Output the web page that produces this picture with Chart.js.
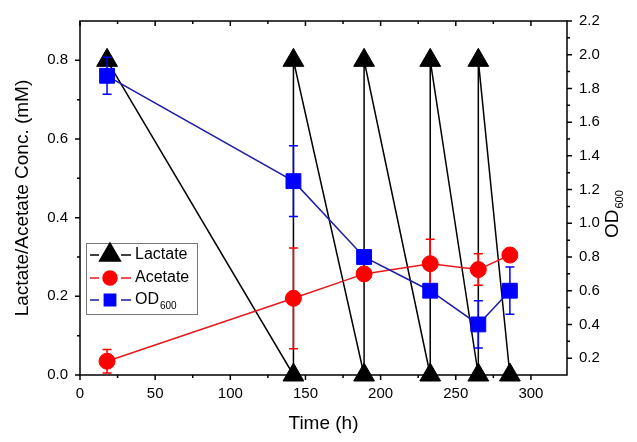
<!DOCTYPE html>
<html>
<head>
<meta charset="utf-8">
<script src="https://cdn.jsdelivr.net/npm/chart.js@4.4.1/dist/chart.umd.min.js"></script>
<style>
html,body{margin:0;padding:0;background:#fff;}
#wrap{width:637px;height:442px;}
</style>
</head>
<body>
<div id="wrap"><canvas id="chart" width="637" height="442"></canvas></div>
<script>
// values
const lactateTime = [18, 142, 142, 189, 189, 233, 233, 265, 265, 286];
const lactateConc = [0.8, 0, 0.8, 0, 0.8, 0, 0.8, 0, 0.8, 0];
const sampleTime = [18, 142, 189, 233, 265, 286];
const acetateConc = [0.035, 0.195, 0.257, 0.283, 0.268, 0.305];
const acetateErr = [0.03, 0.128, 0, 0.062, 0.04, 0];
const od600 = [1.875, 1.25, 0.8, 0.6, 0.4, 0.6];
const od600Err = [0.11, 0.21, 0, 0, 0.14, 0.14];

const xTicks = [0, 50, 100, 150, 200, 250, 300];
const xMinor = [25, 75, 125, 175, 225, 275];
const yTicks = [0, 0.2, 0.4, 0.6, 0.8];
const yMinor = [0.1, 0.3, 0.5, 0.7];
const y2Ticks = [0.2, 0.4, 0.6, 0.8, 1.0, 1.2, 1.4, 1.6, 1.8, 2.0, 2.2];
const y2Minor = [0.3, 0.5, 0.7, 0.9, 1.1, 1.3, 1.5, 1.7, 1.9, 2.1];

const FONT = '"Liberation Sans", Arial, sans-serif';
const RED = '#ff0000', BLUE = '#0000ff';

function pts(xs, ys){ return xs.map((x,i)=>({x:x, y:ys[i]})); }

const errorBars = {
    id: 'errorBars',
    beforeDatasetDraw(chart, args){
        const ds = chart.data.datasets[args.index];
        if(!ds.errors) return;
        const ctx = chart.ctx, xs = chart.scales.x, ys = chart.scales[ds.yAxisID];
        ctx.save();
        ctx.strokeStyle = ds.errorColor;
        ctx.lineWidth = 1.5;
        ds.data.forEach((p,i)=>{
            const e = ds.errors[i];
            if(!e) return;
            const px = xs.getPixelForValue(p.x);
            const top = ys.getPixelForValue(p.y + e), bot = ys.getPixelForValue(p.y - e);
            ctx.beginPath();
            ctx.moveTo(px, top); ctx.lineTo(px, bot);
            ctx.moveTo(px-4.5, top); ctx.lineTo(px+4.5, top);
            ctx.moveTo(px-4.5, bot); ctx.lineTo(px+4.5, bot);
            ctx.stroke();
        });
        ctx.restore();
    }
};

// Origin-style frame with major/minor ticks
const frame = {
    id: 'frame',
    beforeDatasetsDraw(chart){
        const ctx = chart.ctx, a = chart.chartArea;
        const sx = chart.scales.x, sy = chart.scales.y, sy2 = chart.scales.y2;
        ctx.save();
        ctx.strokeStyle = '#000';
        ctx.lineWidth = 1.5;
        ctx.strokeRect(a.left, a.top, a.right-a.left, a.bottom-a.top);
        ctx.beginPath();
        xTicks.forEach(v=>{ const p = sx.getPixelForValue(v);
            ctx.moveTo(p, a.bottom); ctx.lineTo(p, a.bottom+5);
            ctx.moveTo(p, a.top); ctx.lineTo(p, a.top+5); });
        xMinor.forEach(v=>{ const p = sx.getPixelForValue(v);
            ctx.moveTo(p, a.bottom); ctx.lineTo(p, a.bottom+3);
            ctx.moveTo(p, a.top); ctx.lineTo(p, a.top+3); });
        yTicks.forEach(v=>{ const p = sy.getPixelForValue(v);
            ctx.moveTo(a.left-5, p); ctx.lineTo(a.left, p); });
        yMinor.forEach(v=>{ const p = sy.getPixelForValue(v);
            ctx.moveTo(a.left-3, p); ctx.lineTo(a.left, p); });
        y2Ticks.forEach(v=>{ const p = sy2.getPixelForValue(v);
            ctx.moveTo(a.right, p); ctx.lineTo(a.right+5, p); });
        y2Minor.forEach(v=>{ const p = sy2.getPixelForValue(v);
            ctx.moveTo(a.right, p); ctx.lineTo(a.right+3, p); });
        ctx.stroke();
        ctx.restore();
    },
    afterDraw(chart){
        const ctx = chart.ctx;
        ctx.save();
        // right axis title OD600
        ctx.fillStyle = '#000';
        ctx.translate(613, 238);
        ctx.rotate(-Math.PI/2);
        ctx.textBaseline = 'middle';
        ctx.font = '19px ' + FONT;
        ctx.fillText('OD', 0, 0);
        const w = ctx.measureText('OD').width;
        ctx.font = '11px ' + FONT;
        ctx.fillText('600', w+1, 7);
        ctx.restore();

        // legend
        ctx.save();
        ctx.strokeStyle = '#777';
        ctx.lineWidth = 1;
        ctx.strokeRect(86.5, 243.5, 111, 71);
        const rows = [
            {ds: chart.data.datasets[0], y: 255, text: 'Lactate', r: 12},
            {ds: chart.data.datasets[1], y: 278, text: 'Acetate', r: 7},
            {ds: chart.data.datasets[2], y: 300, text: 'OD', sub: '600', r: 8}
        ];
        rows.forEach(row=>{
            ctx.strokeStyle = row.ds.borderColor;
            ctx.lineWidth = 1.5;
            ctx.beginPath();
            ctx.moveTo(90, row.y); ctx.lineTo(99, row.y);
            ctx.moveTo(121, row.y); ctx.lineTo(131, row.y);
            ctx.stroke();
            ctx.fillStyle = row.ds.pointBackgroundColor;
            ctx.strokeStyle = row.ds.pointBackgroundColor;
            Chart.helpers.drawPoint(ctx, {pointStyle: row.ds.pointStyle, radius: row.r, rotation: 0, borderWidth: 1}, 110, row.y);
            ctx.fillStyle = '#000';
            ctx.textBaseline = 'middle';
            ctx.font = '16px ' + FONT;
            ctx.fillText(row.text, 135, row.y);
            if(row.sub){
                const tw = ctx.measureText(row.text).width;
                ctx.font = '10px ' + FONT;
                ctx.fillText(row.sub, 135 + tw + 1, row.y + 6);
            }
        });
        ctx.restore();
    }
};

new Chart(document.getElementById('chart').getContext('2d'), {
    type: 'line',
    data: {
        datasets: [
            {
                label: 'Lactate', data: pts(lactateTime, lactateConc), yAxisID: 'y',
                borderColor: '#000', borderWidth: 1.5, pointStyle: 'triangle', pointRadius: 12,
                pointBackgroundColor: '#000', pointBorderColor: '#000', pointBorderWidth: 1,
                tension: 0, clip: false, order: 3
            },
            {
                label: 'Acetate', data: pts(sampleTime, acetateConc), yAxisID: 'y',
                errors: acetateErr, errorColor: RED,
                borderColor: '#e8181c', borderWidth: 1.5, pointStyle: 'circle', pointRadius: 8,
                pointBackgroundColor: RED, pointBorderColor: RED, pointBorderWidth: 1,
                tension: 0, clip: false, order: 2
            },
            {
                label: 'OD600', data: pts(sampleTime, od600), yAxisID: 'y2',
                errors: od600Err, errorColor: BLUE,
                borderColor: '#1a1aa8', borderWidth: 1.5, pointStyle: 'rect', pointRadius: 10.5,
                pointBackgroundColor: BLUE, pointBorderColor: BLUE, pointBorderWidth: 1,
                tension: 0, clip: false, order: 1
            }
        ]
    },
    options: {
        responsive: false,
        animation: false,
        devicePixelRatio: 1,
        layout: {padding: {top: 13, left: 0, right: 0, bottom: 0}},
        plugins: {legend: {display: false}, tooltip: {enabled: false}},
        scales: {
            x: {
                type: 'linear', position: 'bottom', min: 0, max: 324,
                grid: {display: false, drawTicks: false}, border: {display: false},
                afterBuildTicks: s => { s.ticks = xTicks.map(v=>({value: v})); },
                afterFit: s => { s.height = 67; },
                ticks: {color: '#000', padding: 10, font: {size: 15, family: FONT}, maxRotation: 0},
                title: {display: true, text: 'Time (h)', color: '#000', padding: {top: 0, bottom: 7}, font: {size: 19, family: FONT}}
            },
            y: {
                type: 'linear', position: 'left', min: 0, max: 0.9,
                grid: {display: false, drawTicks: false}, border: {display: false},
                afterBuildTicks: s => { s.ticks = yTicks.map(v=>({value: v})); },
                afterFit: s => { s.width = 80; },
                ticks: {color: '#000', padding: 12, font: {size: 15, family: FONT}, callback: v => v.toFixed(1)},
                title: {display: true, text: 'Lactate/Acetate Conc. (mM)', color: '#000', padding: {top: 11, bottom: 0}, font: {size: 19, family: FONT}}
            },
            y2: {
                type: 'linear', position: 'right', min: 0.1, max: 2.2,
                grid: {display: false, drawTicks: false}, border: {display: false},
                afterBuildTicks: s => { s.ticks = y2Ticks.map(v=>({value: v})); },
                afterFit: s => { s.width = 70; },
                ticks: {color: '#000', padding: 12, font: {size: 15, family: FONT}, callback: v => v.toFixed(1)}
            }
        }
    },
    plugins: [errorBars, frame]
});
</script>
</body>
</html>
